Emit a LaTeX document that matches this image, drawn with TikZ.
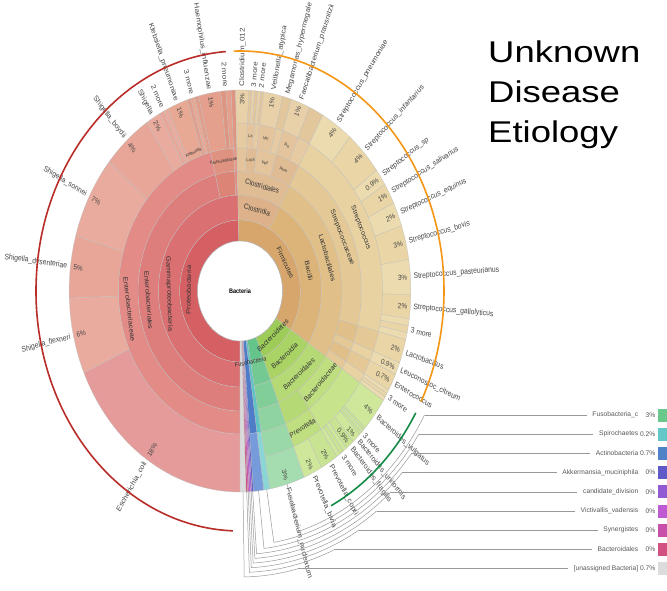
\documentclass[tikz,border=0pt]{standalone}
\usepackage{fontspec}
\setmainfont{Liberation Sans}
\newcounter{nn}
% Proteobacteria
\definecolor{pA}{RGB}{213,96,100}\definecolor{pB}{RGB}{218,112,113}
\definecolor{pC}{RGB}{222,126,124}\definecolor{pC2}{RGB}{220,132,118}\definecolor{pC3}{RGB}{224,140,128}
\definecolor{pD}{RGB}{226,139,135}\definecolor{pD2}{RGB}{224,146,128}\definecolor{pD3}{RGB}{228,152,138}
\definecolor{pEc}{RGB}{229,155,153}\definecolor{pSh}{RGB}{233,171,157}\definecolor{pSh2}{RGB}{231,166,152}
\definecolor{pKl}{RGB}{231,168,148}\definecolor{pKl2}{RGB}{226,158,140}
\definecolor{pHa}{RGB}{228,160,140}\definecolor{pHa2}{RGB}{222,150,130}
% Firmicutes
\definecolor{fA}{RGB}{214,166,108}\definecolor{fB}{RGB}{220,180,122}\definecolor{fC}{RGB}{224,191,137}
\definecolor{fD}{RGB}{228,201,150}\definecolor{fE}{RGB}{232,210,162}\definecolor{fF}{RGB}{236,219,174}
\definecolor{fF2}{RGB}{233,213,165}
\definecolor{cB}{RGB}{221,178,138}\definecolor{cC}{RGB}{224,188,148}\definecolor{cD}{RGB}{227,196,156}
\definecolor{cE}{RGB}{229,202,162}\definecolor{cF}{RGB}{232,209,168}\definecolor{cF2}{RGB}{226,198,156}
% Bacteroidetes
\definecolor{bA}{RGB}{158,204,88}\definecolor{bB}{RGB}{170,211,102}\definecolor{bC}{RGB}{181,217,116}
\definecolor{bD}{RGB}{191,222,128}\definecolor{bE}{RGB}{199,227,140}\definecolor{bF}{RGB}{207,231,154}
\definecolor{bF2}{RGB}{200,227,146}
% Fusobacteria and small phyla
\definecolor{uA}{RGB}{100,196,138}\definecolor{uB}{RGB}{116,201,146}\definecolor{uC}{RGB}{130,206,153}
\definecolor{uD}{RGB}{143,211,160}\definecolor{uE}{RGB}{155,216,168}\definecolor{uF}{RGB}{166,221,176}
\definecolor{sA}{RGB}{96,196,196}\definecolor{sF}{RGB}{138,214,214}
\definecolor{aA}{RGB}{78,124,200}\definecolor{aF}{RGB}{118,155,218}
\definecolor{z1}{RGB}{95,90,200}\definecolor{z2}{RGB}{145,90,210}\definecolor{z3}{RGB}{190,90,210}
\definecolor{z4}{RGB}{200,80,170}\definecolor{z5}{RGB}{208,80,130}
\definecolor{gA}{RGB}{218,218,218}
\definecolor{L0}{RGB}{105,200,140}\definecolor{L1}{RGB}{100,200,200}\definecolor{L2}{RGB}{80,130,200}
\definecolor{L3}{RGB}{95,90,200}\definecolor{L4}{RGB}{145,90,210}\definecolor{L5}{RGB}{190,90,210}
\definecolor{L6}{RGB}{200,80,170}\definecolor{L7}{RGB}{210,80,130}\definecolor{L8}{RGB}{220,220,220}
\definecolor{arcred}{RGB}{185,45,40}\definecolor{arcorange}{RGB}{245,150,20}\definecolor{arcgreen}{RGB}{20,140,70}
\tikzset{
 lab/.style={font=\fontsize{8}{9}\selectfont,text=black!72,inner sep=0.6pt},
 plab/.style={font=\fontsize{7.5}{9}\selectfont,text=black!72,inner sep=0.6pt},
 ilab/.style={font=\fontsize{7.5}{9}\selectfont,text=black!80,inner sep=0pt},
 mlab/.style={font=\fontsize{6.5}{7}\selectfont,text=black!80,inner sep=0pt},
 slab/.style={font=\fontsize{4.5}{5}\selectfont,text=black!80,inner sep=0pt},
 leader/.style={draw=black!40,line width=0.5pt},
 annot/.style={line width=1.6pt},
 lgtext/.style={font=\fontsize{6.7}{8}\selectfont,text=black!65,inner sep=0.5pt},
 title/.style={font=\fontsize{30}{30}\selectfont,xscale=1.216,inner sep=0pt,anchor=base west}
}
\newcommand\Wdg[5]{\filldraw[fill=#5,draw=black!25,line width=0.25pt] ({90-(#1)}:#3pt) arc[start angle={90-(#1)},end angle={90-(#2)},radius=#3pt] -- ({90-(#2)}:#4pt) arc[start angle={90-(#2)},end angle={90-(#1)},radius=#4pt] -- cycle;}
\newcommand\OutR[2]{\stepcounter{nn}\node[lab,rotate={90-(#1)},anchor=west] (o\arabic{nn}) at ({90-(#1)}:204pt) {#2};}
\newcommand\OutL[2]{\stepcounter{nn}\node[lab,rotate={270-(#1)},anchor=east] (o\arabic{nn}) at ({90-(#1)}:204pt) {#2};}
\newcommand\PctR[2]{\stepcounter{nn}\node[plab,rotate={90-(#1)},anchor=east] (o\arabic{nn}) at ({90-(#1)}:198pt) {#2};}
\newcommand\PctL[2]{\stepcounter{nn}\node[plab,rotate={270-(#1)},anchor=west] (o\arabic{nn}) at ({90-(#1)}:198pt) {#2};}
\newcommand\Tan[4][ilab]{\pgfmathsetmacro\rr{cos(#2)<0 ? 180-(#2) : -(#2)}\stepcounter{nn}\node[#1,rotate=\rr] (o\arabic{nn}) at ({90-(#2)}:#3pt) {#4};}
\newcommand\LG[4]{%
 \pgfmathsetmacro\yy{175-19.2*#1}%
 \node[lgtext,anchor=east] (lgn#1) at (639,\yy) {#2};
 \node[lgtext,anchor=east] (lgp#1) at (656,\yy) {#3};
 \fill[#4] (658,\yy-6.5) rectangle (672,\yy+6.5);
 \draw[leader,shorten >=5pt] (le#1) -- (lgn#1.west |- le#1);}
\begin{document}
\begin{tikzpicture}[x=1pt,y=1pt]
\useasboundingbox (0,0) rectangle (667,590);
\fill[white] (0,0) rectangle (667,590);
\begin{scope}[shift={(240,299)},xscale=0.85,transform shape]
% ---------- Proteobacteria
\Wdg{180}{358.5}{50}{71}{pA}
\Wdg{180}{358.5}{71}{96}{pB}
\Wdg{180}{346}{96}{120}{pC}\Wdg{346}{357}{96}{120}{pC2}\Wdg{357}{358.5}{96}{120}{pC3}
\Wdg{180}{346}{120}{143}{pD}\Wdg{346}{357}{120}{143}{pD2}\Wdg{357}{358.5}{120}{143}{pD3}
\Wdg{180}{246}{143}{201}{pEc}
\Wdg{246}{268}{143}{201}{pSh}\Wdg{268}{286}{143}{201}{pSh2}\Wdg{286}{310}{143}{201}{pSh}
\Wdg{310}{327}{143}{201}{pSh2}\Wdg{327}{332}{143}{201}{pSh}\Wdg{332}{333.5}{143}{201}{pSh2}
\Wdg{333.5}{335}{143}{201}{pSh}
\Wdg{335}{342}{143}{201}{pKl}\Wdg{342}{343.3}{143}{201}{pKl2}\Wdg{343.3}{344.6}{143}{201}{pKl}
\Wdg{344.6}{346}{143}{201}{pKl2}
\Wdg{346}{353.5}{143}{201}{pHa}\Wdg{353.5}{355.2}{143}{201}{pHa2}\Wdg{355.2}{357}{143}{201}{pHa}
\Wdg{357}{358.5}{143}{201}{pHa2}
% ---------- Firmicutes
\Wdg{-1.5}{123}{50}{71}{fA}
\Wdg{-1.5}{29}{71}{96}{cB}\Wdg{29}{123}{71}{96}{fB}
\Wdg{-1.5}{29}{96}{120}{cC}\Wdg{29}{123}{96}{120}{fC}
\Wdg{-1.5}{3}{120}{143}{cD}\Wdg{3}{8}{120}{143}{cC}\Wdg{8}{17.5}{120}{143}{cD}\Wdg{17.5}{29}{120}{143}{cC}
\Wdg{29}{104}{120}{143}{fD}\Wdg{104}{111}{120}{143}{fC}\Wdg{111}{114.5}{120}{143}{fD}
\Wdg{114.5}{119.5}{120}{143}{fC}\Wdg{119.5}{123}{120}{143}{fD}
\Wdg{-1.5}{3}{143}{168}{cE}\Wdg{3}{6}{143}{168}{cD}\Wdg{6}{8}{143}{168}{cE}\Wdg{8}{14.5}{143}{168}{cD}
\Wdg{14.5}{17.5}{143}{168}{cE}\Wdg{17.5}{24}{143}{168}{cD}\Wdg{24}{29}{143}{168}{cE}
\Wdg{29}{104}{143}{168}{fE}\Wdg{104}{111}{143}{168}{fD}\Wdg{111}{114.5}{143}{168}{fE}
\Wdg{114.5}{119.5}{143}{168}{fD}\Wdg{119.5}{123}{143}{168}{fE}
\Wdg{-1.5}{3}{168}{201}{cF}\Wdg{3}{4}{168}{201}{cF2}\Wdg{4}{5}{168}{201}{cF}\Wdg{5}{6}{168}{201}{cF2}
\Wdg{6}{7}{168}{201}{cF}\Wdg{7}{8}{168}{201}{cF2}\Wdg{8}{14.5}{168}{201}{cF}\Wdg{14.5}{17.5}{168}{201}{cF2}
\Wdg{17.5}{24}{168}{201}{cF}\Wdg{24}{29}{168}{201}{cF2}
\Wdg{29}{40}{168}{201}{fF}\Wdg{40}{53}{168}{201}{fF2}\Wdg{53}{58}{168}{201}{fF}\Wdg{58}{64}{168}{201}{fF2}
\Wdg{64}{71}{168}{201}{fF}\Wdg{71}{81}{168}{201}{fF2}\Wdg{81}{91}{168}{201}{fF}\Wdg{91}{98}{168}{201}{fF2}
\Wdg{98}{100}{168}{201}{fF}\Wdg{100}{102}{168}{201}{fF2}\Wdg{102}{104}{168}{201}{fF}
\Wdg{104}{111}{168}{201}{fF2}\Wdg{111}{114.5}{168}{201}{fF}\Wdg{114.5}{119.5}{168}{201}{fF2}
\Wdg{119.5}{120.7}{168}{201}{fF}\Wdg{120.7}{121.8}{168}{201}{fF2}\Wdg{121.8}{123}{168}{201}{fF}
% ---------- Bacteroidetes
\Wdg{123}{158}{50}{71}{bA}\Wdg{123}{158}{71}{96}{bB}\Wdg{123}{158}{96}{120}{bC}
\Wdg{123}{145.5}{120}{143}{bD}\Wdg{145.5}{158}{120}{143}{bC}
\Wdg{123}{145.5}{143}{168}{bE}\Wdg{145.5}{158}{143}{168}{bD}
\Wdg{123}{133}{168}{201}{bF}\Wdg{133}{133.8}{168}{201}{bF2}\Wdg{133.8}{134.6}{168}{201}{bF}
\Wdg{134.6}{135.5}{168}{201}{bF2}\Wdg{135.5}{138.5}{168}{201}{bF}\Wdg{138.5}{141.5}{168}{201}{bF2}
\Wdg{141.5}{142.8}{168}{201}{bF}\Wdg{142.8}{144.1}{168}{201}{bF2}\Wdg{144.1}{145.5}{168}{201}{bF}
\Wdg{145.5}{151.5}{168}{201}{bF2}\Wdg{151.5}{158}{168}{201}{bF}
% ---------- Fusobacteria
\Wdg{158}{170}{50}{71}{uA}\Wdg{158}{170}{71}{96}{uB}\Wdg{158}{170}{96}{120}{uC}
\Wdg{158}{170}{120}{143}{uD}\Wdg{158}{170}{143}{168}{uE}\Wdg{158}{170}{168}{201}{uF}
% ---------- small phyla
\Wdg{170}{172}{50}{143}{sA}\Wdg{170}{172}{143}{201}{sF}
\Wdg{172}{175.5}{50}{143}{aA}\Wdg{172}{175.5}{143}{201}{aF}
\Wdg{175.5}{176}{50}{201}{z1}\Wdg{176}{176.5}{50}{201}{z2}\Wdg{176.5}{177}{50}{201}{z3}
\Wdg{177}{177.5}{50}{201}{z4}\Wdg{177.5}{178}{50}{201}{z5}
\Wdg{178}{180}{50}{201}{gA}
% hole
\filldraw[fill=white,draw=black!35,line width=0.4pt] (0,0) circle[radius=50pt];
\node[font=\bfseries\fontsize{6.5}{7}\selectfont,inner sep=0pt] (root) at (0,0) {Bacteria};
% ---------- inner labels
\Tan{271}{60.5}{Proteobacteria}
\Tan{268}{83.5}{Gammaproteobacteria}
\Tan{265}{108}{Enterobacteriales}
\Tan{262}{131.5}{Enterobacteriaceae}
\Tan[slab]{338.5}{149}{Klebsiella}
\Tan[slab]{351.5}{131.5}{Pasteurellaceae}
\Tan{62}{60.5}{Firmicutes}
\Tan{76}{83.5}{Bacilli}
\Tan{14}{83.5}{Clostridia}
\Tan{14}{108}{Clostridiales}
\Tan{72}{108}{Lactobacillales}
\Tan{66}{131.5}{Streptococcaceae}
\Tan{66}{155.5}{Streptococcus}
\Tan[slab]{5.5}{131.5}{Lach}
\Tan[slab]{12.75}{131.5}{Veil}
\Tan[slab]{23}{131.5}{Rum}
\Tan[slab]{4.5}{155.5}{La}
\Tan[slab]{11.25}{155.5}{Vei}
\Tan[slab]{20.75}{155.5}{Ru}
\Tan{139}{59}{Bacteroidetes}
\Tan{141}{83.5}{Bacteroidia}
\Tan{140}{108}{Bacteroidales}
\Tan{134}{131.5}{Bacteroidaceae}
\Tan{151.75}{155.5}{Prevotella}
\Tan[mlab]{170}{72}{Fusobacteria}
% ---------- outer labels, right
\OutR{0.75}{Clostridium\_012}\PctR{0.75}{3\%}
\OutR{4.5}{3 more}
\OutR{7}{2 more}
\OutR{11.25}{Veillonella\_atypica}\PctR{11.25}{1\%}
\OutR{16}{Megamonas\_hypermegale}
\OutR{20.75}{Faecalibacterium\_prausnitzii}\PctR{20.75}{1\%}
\OutR{34.5}{Streptococcus\_pneumoniae}\PctR{34.5}{4\%}
\OutR{46.5}{Streptococcus\_infantarius}\PctR{46.5}{4\%}
\OutR{55.5}{Streptococcus\_sp}\PctR{55.5}{0.9\%}
\OutR{61}{Streptococcus\_salivarius}\PctR{61}{1\%}
\OutR{67.5}{Streptococcus\_equinus}\PctR{67.5}{2\%}
\OutR{76}{Streptococcus\_bovis}\PctR{76}{3\%}
\OutR{86}{Streptococcus\_pasteurianus}\PctR{86}{3\%}
\OutR{94.5}{Streptococcus\_gallolyticus}\PctR{94.5}{2\%}
\OutR{101}{3 more}
\OutR{107.5}{Lactobacillus}\PctR{107.5}{2\%}
\OutR{112.75}{Leuconostoc\_citreum}\PctR{112.75}{0.9\%}
\OutR{117}{Enterococcus}\PctR{117}{0.7\%}
\OutR{121.3}{3 more}
\OutR{128}{Bacteroides\_vulgatus}\PctR{128}{4\%}
\OutR{134.5}{3 more}
\OutR{137}{Bacteroides\_uniformis}\PctR{137}{1\%}
\OutR{140}{Bacteroides\_fragilis}\PctR{140}{0.9\%}
\OutR{143.5}{3 more}
\OutR{148.5}{Prevotella\_copri}\PctR{148.5}{2\%}
\OutR{154.75}{Prevotella\_bivia}\PctR{154.75}{2\%}
\OutR{164}{Fusobacterium\_nucleatum}\PctR{164}{3\%}
% ---------- outer labels, left
\OutL{213}{Escherichia\_coli}\PctL{213}{18\%}
\OutL{257}{Shigella\_flexneri}\PctL{257}{6\%}
\OutL{277}{Shigella\_dysenteriae}\PctL{277}{5\%}
\OutL{298}{Shigella\_sonnei}\PctL{298}{7\%}
\OutL{318.5}{Shigella\_boydii}\PctL{318.5}{4\%}
\OutL{329.5}{Shigella}\PctL{329.5}{2\%}
\OutL{333.5}{2 more}
\OutL{338.5}{Klebsiella\_pneumoniae}\PctL{338.5}{1\%}
\OutL{344}{3 more}
\OutL{349.75}{Haemophilus\_influenzae}\PctL{349.75}{1\%}
\OutL{355.25}{2 more}
% ---------- annotation arcs
\draw[annot,arcred] ({90-182}:240pt) arc[start angle={90-182},end angle={90-356},radius=240pt];
\draw[annot,arcorange] ({90+1.8}:240pt) arc[start angle={90+1.8},end angle={90-117.5},radius=240pt];
\draw[annot,arcgreen] ({90-120.5}:240pt) arc[start angle={90-120.5},end angle={90-153.5},radius=240pt];
% ---------- legend leaders
\foreach \ka/\ta in {0/164,1/171,2/173.75,3/175.75,4/176.25,5/176.75,6/177.25,7/177.75,8/179}{
 \pgfmathsetmacro\rk{250+4.5*\ka}
 \pgfmathsetmacro\pk{acos((-124-19.2*\ka)/\rk)}
 \draw[leader] ({90-\ta}:201pt) -- ({90-\ta}:\rk pt) arc[start angle={90-\ta},end angle={90-\pk},radius=\rk pt] coordinate (le\ka);
}
\end{scope}
% ---------- legend
\LG{0}{Fusobacteria\_c}{3\%}{L0}
\LG{1}{Spirochaetes}{0.2\%}{L1}
\LG{2}{Actinobacteria}{0.7\%}{L2}
\LG{3}{Akkermansia\_muciniphila}{0\%}{L3}
\LG{4}{candidate\_division}{0\%}{L4}
\LG{5}{Victivallis\_vadensis}{0\%}{L5}
\LG{6}{Synergistes}{0\%}{L6}
\LG{7}{Bacteroidales}{0\%}{L7}
\LG{8}{[unassigned Bacteria]}{0.7\%}{L8}
% ---------- title
\node[title] (t1) at (488,527) {Unknown};
\node[title] (t2) at (488,487) {Disease};
\node[title] (t3) at (488,447) {Etiology};
\end{tikzpicture}
\end{document}
